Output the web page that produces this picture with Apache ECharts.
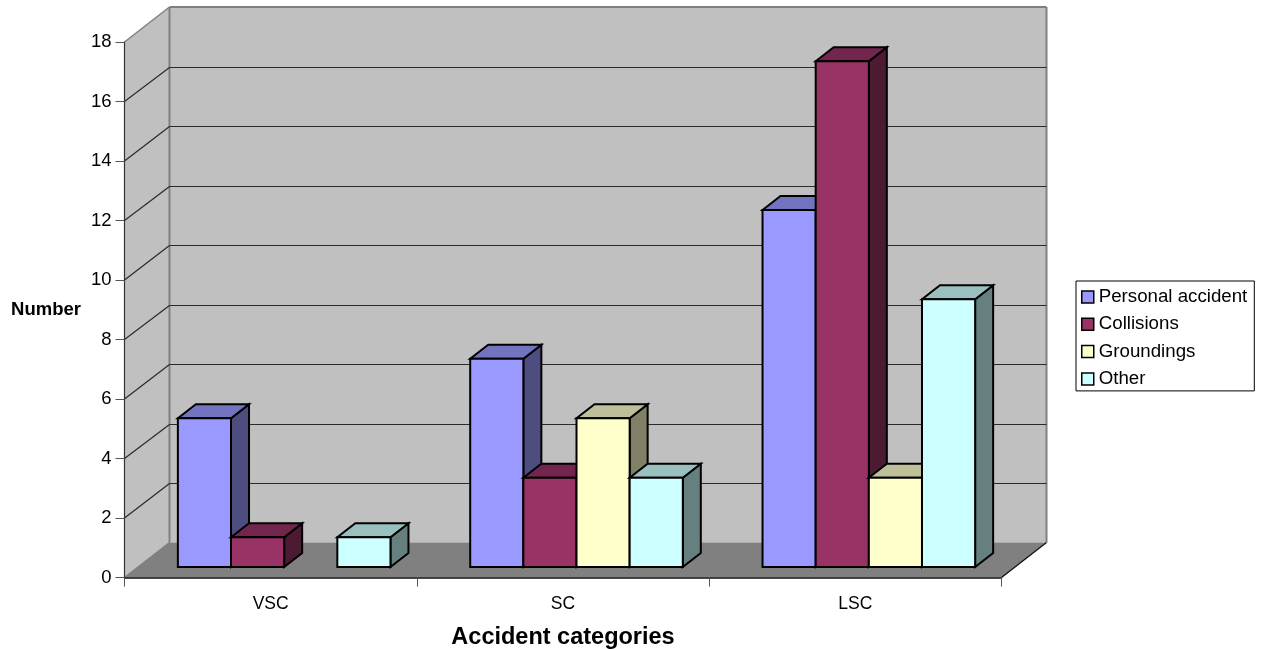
<!DOCTYPE html>
<html>
<head>
<meta charset="utf-8">
<style>html,body{margin:0;padding:0;background:#fff}#chart{width:1269px;height:649px}</style>
<script src="https://cdn.jsdelivr.net/npm/echarts@6/dist/echarts.min.js"></script>
</head>
<body>
<div id="chart"></div>
<script>
const categories = ['VSC', 'SC', 'LSC'];
const yTicks = [2, 4, 6, 8, 10, 12, 14, 16, 18];
const personalAccident = [5, 7, 12];
const collisions = [1, 3, 17];
const groundings = [0, 5, 3];
const other = [1, 3, 9];

const seriesNames = ['Personal accident', 'Collisions', 'Groundings', 'Other'];
const seriesValues = [personalAccident, collisions, groundings, other];
const frontColors = ['#9999FF', '#993366', '#FFFFCC', '#CCFFFF'];
const topColors = ['#7373BF', '#73264D', '#BFBF99', '#99BFBF'];
const sideColors = ['#4D4D80', '#4D1A33', '#808066', '#668080'];

// Oblique projection of the chart box: how far the back wall sits from the front plane.
const DEPTH_X = 45;
const DEPTH_Y = -35;
const FONT = '"Liberation Sans", Arial, sans-serif';
const WALL = '#C0C0C0';
const FLOOR = '#808080';
const EDGE = '#808080';
const GRID = '#2a2a2a';

function face(points, fill, stroke, width) {
  return {
    type: 'polygon',
    shape: { points },
    style: { fill, stroke: stroke || 'none', lineWidth: width || 0, lineJoin: 'miter' }
  };
}
function seg(a, b, stroke, width) {
  return {
    type: 'line',
    shape: { x1: a[0], y1: a[1], x2: b[0], y2: b[1] },
    style: { stroke, lineWidth: width }
  };
}

// Walls and floor, computed from the axis scales.
function renderFloorAndWalls(params, api) {
  if (params.dataIndex !== 0) return null;
  const band = api.size([1, 0])[0];
  const bottom = api.coord([0, 0])[1];
  const top = api.coord([0, 18])[1];
  const left = api.coord([0, 0])[0] - band / 2;
  const right = api.coord([categories.length - 1, 0])[0] + band / 2;
  const bl = left + DEPTH_X, br = right + DEPTH_X;
  const bb = bottom + DEPTH_Y, bt = top + DEPTH_Y;
  return {
    type: 'group',
    children: [
      face([[bl, bt], [br, bt], [br, bb], [bl, bb]], WALL),
      face([[left, top], [bl, bt], [bl, bb], [left, bottom]], WALL),
      face([[left, bottom], [bl, bb], [br, bb], [right, bottom]], FLOOR),
      seg([left, top], [bl, bt], EDGE, 1.5),
      seg([bl, bt], [br, bt], EDGE, 2),
      seg([bl, bt], [bl, bb], EDGE, 2),
      seg([br, bt], [br, bb], EDGE, 2),
      seg([left, bottom], [bl, bb], EDGE, 1.5),
      seg([right, bottom], [br, bb], '#111', 1.3)
    ]
  };
}

// One gridline per tick: a diagonal along the side wall and a run along the back wall.
function renderGridline(params, api) {
  const value = api.value(0);
  if (value >= 18) return null;
  const band = api.size([1, 0])[0];
  const y = api.coord([0, value])[1];
  const left = api.coord([0, 0])[0] - band / 2;
  const right = api.coord([categories.length - 1, 0])[0] + band / 2;
  const backY = Math.round(y + DEPTH_Y) + 0.5;
  return {
    type: 'group',
    children: [
      seg([left, y], [left + DEPTH_X, backY], GRID, 1.2),
      seg([left + DEPTH_X, backY], [right + DEPTH_X, backY], GRID, 1.2)
    ]
  };
}

// A cuboid column: front, top and right faces, offset into the depth of the box.
function makeBarRenderer(seriesIndex) {
  return function (params, api) {
    const value = api.value(1);
    if (!value) return null;
    const idx = api.value(0);
    const band = api.size([1, 0])[0];
    const barW = band / 5.5;
    const base = api.coord([idx, 0]);
    const head = api.coord([idx, value]);
    const dx = DEPTH_X * 0.4, dy = DEPTH_Y * 0.4;
    const x0 = base[0] + DEPTH_X * 0.3 + (seriesIndex - 2) * barW;
    const x1 = x0 + barW;
    const y0 = base[1] + DEPTH_Y * 0.3;
    const y1 = head[1] + DEPTH_Y * 0.3;
    return {
      type: 'group',
      children: [
        face([[x1, y0], [x1 + dx, y0 + dy], [x1 + dx, y1 + dy], [x1, y1]], sideColors[seriesIndex], '#000', 2),
        face([[x0, y1], [x0 + dx, y1 + dy], [x1 + dx, y1 + dy], [x1, y1]], topColors[seriesIndex], '#000', 2),
        face([[x0, y0], [x1, y0], [x1, y1], [x0, y1]], frontColors[seriesIndex], '#000', 2)
      ]
    };
  };
}

const barSeries = seriesNames.map((name, s) => ({
  name,
  type: 'custom',
  z: 3,
  clip: false,
  itemStyle: { color: frontColors[s] },
  encode: { x: 0, y: 1 },
  data: seriesValues[s].map((v, i) => [i, v]),
  renderItem: makeBarRenderer(s)
}));

const chart = echarts.init(document.getElementById('chart'), null, { renderer: 'canvas' });
chart.setOption({
  animation: false,
  backgroundColor: '#fff',
  grid: { left: 124.5, right: 267.5, top: 42, bottom: 71.5, containLabel: false, outerBoundsMode: 'none' },
  legend: {
    orient: 'vertical',
    left: 1076,
    top: 281,
    padding: [6, 7, 2, 5],
    icon: 'rect',
    itemWidth: 12,
    itemHeight: 12,
    itemGap: 7.3,
    borderColor: '#000',
    borderWidth: 1,
    backgroundColor: '#fff',
    itemStyle: { borderColor: '#000', borderWidth: 1.5 },
    textStyle: { fontFamily: FONT, fontSize: 18.7, color: '#000', lineHeight: 20, padding: 0 },
    data: seriesNames
  },
  xAxis: {
    type: 'category',
    data: categories,
    z: 5,
    name: 'Accident categories',
    nameLocation: 'middle',
    nameGap: 48,
    nameTextStyle: { fontFamily: FONT, fontSize: 23.5, fontWeight: 'bold', color: '#000' },
    axisLine: { show: true, onZero: false, lineStyle: { color: '#111', width: 1.5 } },
    axisTick: { show: true, length: 9, lineStyle: { color: '#555', width: 1 } },
    axisLabel: { fontFamily: FONT, fontSize: 17.5, color: '#000', margin: 18 },
    splitLine: { show: false }
  },
  yAxis: {
    type: 'value',
    min: 0,
    max: 18,
    interval: 2,
    z: 5,
    name: 'Number',
    nameLocation: 'middle',
    nameRotate: 0,
    nameGap: 43.5,
    nameTextStyle: { fontFamily: FONT, fontSize: 18.5, fontWeight: 'bold', color: '#000' },
    axisLine: { show: true, lineStyle: { color: '#333', width: 1.2 } },
    axisTick: { show: true, length: 9, lineStyle: { color: '#555', width: 1 } },
    axisLabel: { fontFamily: FONT, fontSize: 18.5, color: '#000', margin: 13 },
    splitLine: { show: false }
  },
  series: [
    {
      type: 'custom',
      z: 1,
      clip: false,
      silent: true,
      encode: { x: 0, y: 1 },
      data: [[0, 0]],
      renderItem: renderFloorAndWalls
    },
    {
      type: 'custom',
      z: 2,
      clip: false,
      silent: true,
      encode: { x: 1, y: 0 },
      data: yTicks.map(v => [v, 0]),
      renderItem: renderGridline
    }
  ].concat(barSeries)
});
</script>
</body>
</html>
